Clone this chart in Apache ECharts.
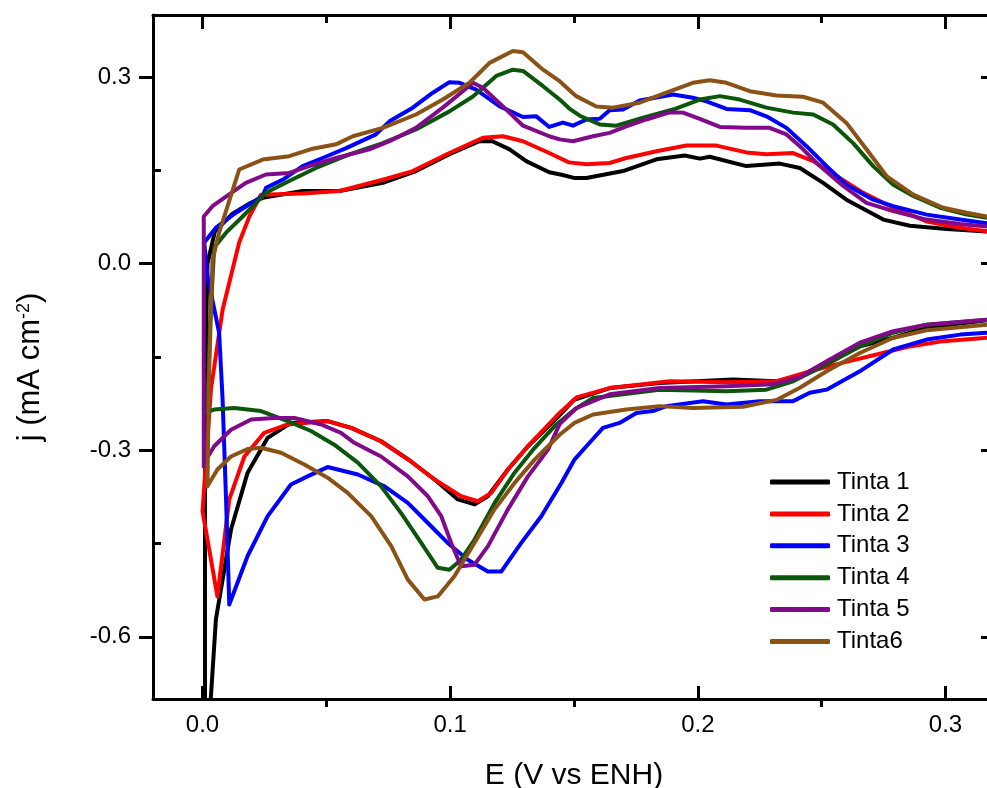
<!DOCTYPE html>
<html>
<head>
<meta charset="utf-8">
<title>CV Tintas</title>
<script src="https://cdn.jsdelivr.net/npm/echarts@6/dist/echarts.min.js"></script>
<style>
  html, body { margin: 0; padding: 0; background: #fff; }
  #main { width: 987px; height: 788px; }
</style>
</head>
<body>
<div id="main"></div>
<script>
// tick positions
const E_TICKS = [0, 0.1, 0.2, 0.3];
const E_MINOR = [0.05, 0.15, 0.25];
const J_TICKS = [-0.6, -0.3, 0, 0.3];
const J_MINOR = [-0.45, -0.15, 0.15];

const NAMES = ['Tinta 1', 'Tinta 2', 'Tinta 3', 'Tinta 4', 'Tinta 5', 'Tinta6'];
const COLORS = ['#000000', '#ff0000', '#0000ff', '#0b560b', '#800a8a', '#8b5216'];

// [E (V), j (mA cm-2)] anodic sweep, then cathodic sweep
const tinta1Up = [[0.001,-0.72],[0.001,-0.35],[0.0015,-0.1],[0.002,0.0],[0.005,0.052],[0.012,0.08],[0.019,0.097],[0.0243,0.106],[0.0404,0.117],[0.0553,0.117],[0.0728,0.130],[0.0862,0.149],[0.0997,0.176],[0.1118,0.197],[0.117,0.197],[0.124,0.184],[0.1307,0.165],[0.140,0.147],[0.145,0.143],[0.150,0.138],[0.155,0.138],[0.1698,0.149],[0.1833,0.168],[0.1947,0.174],[0.2008,0.169],[0.2048,0.172],[0.2196,0.157],[0.2331,0.161],[0.2412,0.154],[0.2506,0.130],[0.260,0.103],[0.2749,0.071],[0.2856,0.061],[0.3005,0.056],[0.3168,0.052],[0.32,0.052]];
const tinta1Down = [[0.32,-0.091],[0.3168,-0.091],[0.2924,-0.103],[0.2789,-0.119],[0.2654,-0.133],[0.252,-0.159],[0.2412,-0.181],[0.2318,-0.189],[0.2142,-0.186],[0.1845,-0.192],[0.1644,-0.200],[0.150,-0.219],[0.1422,-0.252],[0.1314,-0.2935],[0.1233,-0.331],[0.1152,-0.374],[0.1099,-0.387],[0.1031,-0.379],[0.0937,-0.347],[0.0842,-0.318],[0.0721,-0.2855],[0.060,-0.264],[0.0505,-0.253],[0.0357,-0.256],[0.0263,-0.280],[0.0182,-0.336],[0.0115,-0.4275],[0.0054,-0.572],[0.003,-0.72]];

const tinta2Up = [[0,-0.398],[0.0034,-0.202],[0.0081,-0.074],[0.0148,0.034],[0.0189,0.076],[0.0236,0.111],[0.0404,0.113],[0.0553,0.117],[0.0728,0.135],[0.0849,0.149],[0.0997,0.178],[0.1132,0.2025],[0.1213,0.205],[0.1294,0.197],[0.140,0.178],[0.1442,0.170],[0.148,0.163],[0.155,0.160],[0.1644,0.162],[0.1711,0.170],[0.1833,0.181],[0.1954,0.190],[0.2075,0.190],[0.2196,0.179],[0.2277,0.176],[0.2385,0.178],[0.2466,0.165],[0.256,0.141],[0.2668,0.114],[0.2789,0.090],[0.2924,0.068],[0.3059,0.058],[0.3168,0.052],[0.32,0.051]];
const tinta2Down = [[0.32,-0.119],[0.3168,-0.119],[0.2991,-0.1245],[0.2856,-0.133],[0.2722,-0.146],[0.2587,-0.159],[0.2452,-0.173],[0.2318,-0.189],[0.2116,-0.1905],[0.1886,-0.189],[0.1644,-0.200],[0.151,-0.215],[0.1442,-0.24],[0.1314,-0.2935],[0.1233,-0.331],[0.1166,-0.3685],[0.1112,-0.382],[0.1044,-0.374],[0.0937,-0.347],[0.0842,-0.318],[0.0721,-0.2855],[0.060,-0.264],[0.0505,-0.253],[0.0344,-0.2585],[0.0249,-0.272],[0.0169,-0.31],[0.0108,-0.379],[0.006,-0.535],[0,-0.398]];

const tinta3Up = [[0.0108,-0.548],[0.0095,-0.379],[0.0081,-0.218],[0.0067,-0.111],[0.002,-0.02],[0.0007,0.034],[0.0054,0.058],[0.0135,0.082],[0.0243,0.109],[0.0256,0.122],[0.0323,0.135],[0.0404,0.157],[0.0485,0.170],[0.058,0.186],[0.070,0.208],[0.0755,0.229],[0.0849,0.251],[0.093,0.275],[0.0997,0.292],[0.1038,0.291],[0.1105,0.280],[0.120,0.253],[0.1294,0.236],[0.1348,0.237],[0.140,0.220],[0.1455,0.227],[0.1496,0.222],[0.155,0.232],[0.1604,0.233],[0.1644,0.247],[0.1698,0.248],[0.1765,0.2625],[0.190,0.272],[0.198,0.267],[0.2035,0.261],[0.2116,0.249],[0.221,0.247],[0.2277,0.237],[0.2358,0.2185],[0.2439,0.189],[0.252,0.157],[0.260,0.127],[0.2708,0.103],[0.2789,0.0925],[0.2924,0.079],[0.3059,0.071],[0.3168,0.065],[0.32,0.064]];
const tinta3Down = [[0.32,-0.110],[0.3168,-0.111],[0.3059,-0.114],[0.2924,-0.122],[0.2789,-0.138],[0.2654,-0.173],[0.252,-0.2025],[0.2452,-0.2075],[0.2385,-0.221],[0.225,-0.221],[0.2116,-0.2265],[0.2021,-0.221],[0.1873,-0.229],[0.1819,-0.237],[0.1752,-0.240],[0.1684,-0.256],[0.1617,-0.264],[0.155,-0.2935],[0.1502,-0.315],[0.1449,-0.3525],[0.1368,-0.406],[0.1287,-0.449],[0.1206,-0.495],[0.1152,-0.495],[0.1071,-0.476],[0.099,-0.449],[0.091,-0.417],[0.0829,-0.3845],[0.0735,-0.358],[0.0627,-0.339],[0.0505,-0.327],[0.0424,-0.342],[0.0357,-0.355],[0.0263,-0.406],[0.0182,-0.470],[0.0108,-0.548]];

const tinta4Up = [[0.002,-0.237],[0.003,-0.1],[0.0047,0.026],[0.0095,0.050],[0.0162,0.076],[0.0256,0.114],[0.035,0.133],[0.0458,0.154],[0.0593,0.176],[0.0728,0.194],[0.0862,0.216],[0.0997,0.245],[0.1092,0.269],[0.1186,0.302],[0.1253,0.312],[0.1294,0.310],[0.1375,0.2855],[0.1442,0.264],[0.148,0.250],[0.1523,0.238],[0.1604,0.224],[0.1671,0.222],[0.1779,0.235],[0.190,0.248],[0.2008,0.264],[0.2089,0.2695],[0.2169,0.264],[0.2277,0.251],[0.2385,0.243],[0.2466,0.240],[0.2546,0.224],[0.2627,0.194],[0.2708,0.157],[0.2789,0.127],[0.287,0.109],[0.2978,0.090],[0.3086,0.079],[0.3168,0.074],[0.32,0.073]];
const tinta4Down = [[0.32,-0.089],[0.3168,-0.090],[0.2924,-0.098],[0.2789,-0.111],[0.2654,-0.133],[0.252,-0.162],[0.2385,-0.189],[0.2277,-0.2025],[0.2116,-0.205],[0.1845,-0.2025],[0.1577,-0.216],[0.1502,-0.2345],[0.1422,-0.261],[0.1341,-0.296],[0.126,-0.336],[0.1179,-0.385],[0.1098,-0.444],[0.1044,-0.476],[0.0997,-0.492],[0.095,-0.489],[0.0883,-0.449],[0.0802,-0.401],[0.0721,-0.358],[0.0627,-0.320],[0.0532,-0.291],[0.0438,-0.269],[0.0344,-0.253],[0.0236,-0.237],[0.0128,-0.232],[0.0047,-0.2345],[0.0007,-0.24],[0.002,-0.237]];

const tinta5Up = [[0.0005,-0.326],[0.0005,0.076],[0.004,0.0925],[0.0135,0.119],[0.0175,0.130],[0.0256,0.1435],[0.035,0.146],[0.0431,0.157],[0.0539,0.170],[0.0674,0.184],[0.0755,0.197],[0.0862,0.2185],[0.097,0.251],[0.1051,0.2775],[0.1092,0.291],[0.1132,0.283],[0.1213,0.253],[0.1294,0.222],[0.140,0.205],[0.1442,0.200],[0.1496,0.197],[0.1577,0.205],[0.1644,0.2105],[0.1711,0.221],[0.1792,0.232],[0.1886,0.2435],[0.194,0.243],[0.2008,0.233],[0.2089,0.220],[0.2196,0.2185],[0.229,0.2185],[0.2358,0.208],[0.2412,0.189],[0.2493,0.157],[0.2587,0.125],[0.2681,0.098],[0.2789,0.0845],[0.2924,0.071],[0.3059,0.064],[0.3168,0.060],[0.32,0.059]];
const tinta5Down = [[0.32,-0.089],[0.3168,-0.090],[0.2924,-0.098],[0.2789,-0.1085],[0.2654,-0.127],[0.252,-0.157],[0.2412,-0.182],[0.2304,-0.194],[0.2116,-0.197],[0.1845,-0.200],[0.1644,-0.210],[0.151,-0.232],[0.1442,-0.258],[0.1395,-0.299],[0.1314,-0.342],[0.1233,-0.395],[0.1152,-0.4545],[0.1098,-0.484],[0.1044,-0.4865],[0.1004,-0.449],[0.0964,-0.406],[0.091,-0.374],[0.0829,-0.342],[0.0721,-0.31],[0.0613,-0.288],[0.0559,-0.272],[0.0479,-0.2585],[0.0371,-0.248],[0.029,-0.248],[0.0196,-0.2505],[0.0115,-0.267],[0.0047,-0.2935],[0.0007,-0.32],[0.0005,-0.326]];

const tinta6Up = [[0.002,-0.358],[0.0025,-0.2],[0.004,0.005],[0.0067,0.05],[0.0148,0.1515],[0.0243,0.1675],[0.035,0.173],[0.0445,0.185],[0.0539,0.192],[0.0607,0.205],[0.0728,0.2185],[0.0862,0.240],[0.097,0.264],[0.1078,0.291],[0.1159,0.323],[0.1253,0.342],[0.1294,0.340],[0.1375,0.312],[0.1442,0.2935],[0.1509,0.2695],[0.159,0.253],[0.1657,0.251],[0.1765,0.259],[0.1873,0.275],[0.198,0.291],[0.2048,0.295],[0.2116,0.291],[0.221,0.2775],[0.2318,0.2705],[0.2425,0.2685],[0.2506,0.259],[0.260,0.2265],[0.2681,0.184],[0.2762,0.141],[0.287,0.111],[0.2991,0.090],[0.3086,0.082],[0.3168,0.076],[0.32,0.075]];
const tinta6Down = [[0.32,-0.097],[0.3168,-0.098],[0.2924,-0.107],[0.2789,-0.119],[0.2654,-0.1435],[0.252,-0.173],[0.2412,-0.1995],[0.2318,-0.219],[0.2183,-0.230],[0.198,-0.232],[0.1845,-0.229],[0.1711,-0.2345],[0.1577,-0.2425],[0.1502,-0.256],[0.1442,-0.275],[0.1341,-0.315],[0.126,-0.3525],[0.1179,-0.395],[0.1098,-0.449],[0.1017,-0.5025],[0.095,-0.535],[0.0896,-0.540],[0.0829,-0.508],[0.0762,-0.454],[0.0681,-0.406],[0.0586,-0.3685],[0.0505,-0.344],[0.0411,-0.323],[0.0317,-0.304],[0.0236,-0.296],[0.0182,-0.298],[0.0115,-0.31],[0.006,-0.331],[0.002,-0.358]];

const LOOPS = [
  tinta1Up.concat(tinta1Down),
  tinta2Up.concat(tinta2Down),
  tinta3Up.concat(tinta3Down),
  tinta4Up.concat(tinta4Down),
  tinta5Up.concat(tinta5Down),
  tinta6Up.concat(tinta6Down)
];

const FONT = '"Liberation Sans", Arial, sans-serif';
const X_MIN = -0.02, X_MAX = 0.32;
const Y_MIN = -0.7, Y_MAX = 0.4;

// one axis per tick style (major/minor ticks point different ways in the original)
function makeAxis(dim, position, ticks, inside, len, withLine, withLabels) {
  const ax = {
    type: 'value',
    position: position,
    min: dim === 'x' ? X_MIN : Y_MIN,
    max: dim === 'x' ? X_MAX : Y_MAX,
    splitLine: { show: false },
    axisLine: { show: withLine, onZero: false, lineStyle: { color: '#000', width: 3 } },
    axisTick: { show: true, inside: inside, length: len, customValues: ticks,
                lineStyle: { color: '#000', width: 3 } },
    axisLabel: { show: false }
  };
  if (withLabels) {
    ax.axisLabel = {
      show: true,
      customValues: ticks,
      formatter: (v) => v.toFixed(1),
      color: '#000',
      fontSize: 24,
      fontFamily: FONT,
      margin: dim === 'x' ? 14 : 22
    };
  }
  return ax;
}

const xBottom = makeAxis('x', 'bottom', E_TICKS, true, 13, true, true);
xBottom.name = 'E (V vs ENH)';
xBottom.nameLocation = 'middle';
xBottom.nameGap = 62;
xBottom.nameTextStyle = { fontSize: 30, fontFamily: FONT, color: '#000' };

const yLeft = makeAxis('y', 'left', J_TICKS, false, 14, true, true);
yLeft.name = 'j (mA cm{sup|-2})';
yLeft.nameLocation = 'middle';
yLeft.nameGap = 107;
yLeft.nameTextStyle = {
  fontSize: 31, fontFamily: FONT, color: '#000',
  padding: [0, 20, 0, 0],
  rich: { sup: { fontSize: 18, fontFamily: FONT, color: '#000', verticalAlign: 'top' } }
};

const option = {
  animation: false,
  backgroundColor: '#ffffff',
  color: COLORS,
  grid: { left: 153, top: 15, right: -8, bottom: 89, outerBoundsMode: 'none', containLabel: false },
  legend: {
    orient: 'vertical',
    left: 765,
    top: 465,
    padding: 5,
    itemWidth: 60,
    itemHeight: 5,
    itemGap: 7.9,
    icon: 'roundRect',
    data: NAMES,
    textStyle: { fontSize: 24, fontFamily: FONT, color: '#000', padding: [0, 0, 0, 2] }
  },
  xAxis: [
    xBottom,
    makeAxis('x', 'bottom', E_MINOR, false, 8, false, false),
    makeAxis('x', 'top', E_TICKS, true, 14, true, false),
    makeAxis('x', 'top', E_MINOR, true, 8, false, false)
  ],
  yAxis: [
    yLeft,
    makeAxis('y', 'left', J_MINOR, true, 8, false, false),
    makeAxis('y', 'right', J_TICKS, true, 14, true, false),
    makeAxis('y', 'right', J_MINOR, true, 8, false, false)
  ],
  series: LOOPS.map((pts, i) => ({
    name: NAMES[i],
    type: 'line',
    xAxisIndex: 0,
    yAxisIndex: 0,
    data: pts,
    symbol: 'none',
    smooth: false,
    clip: true,
    lineStyle: { width: 4, color: COLORS[i], join: 'round', cap: 'round' }
  }))
};

const chart = echarts.init(document.getElementById('main'));
chart.setOption(option);
</script>
</body>
</html>
